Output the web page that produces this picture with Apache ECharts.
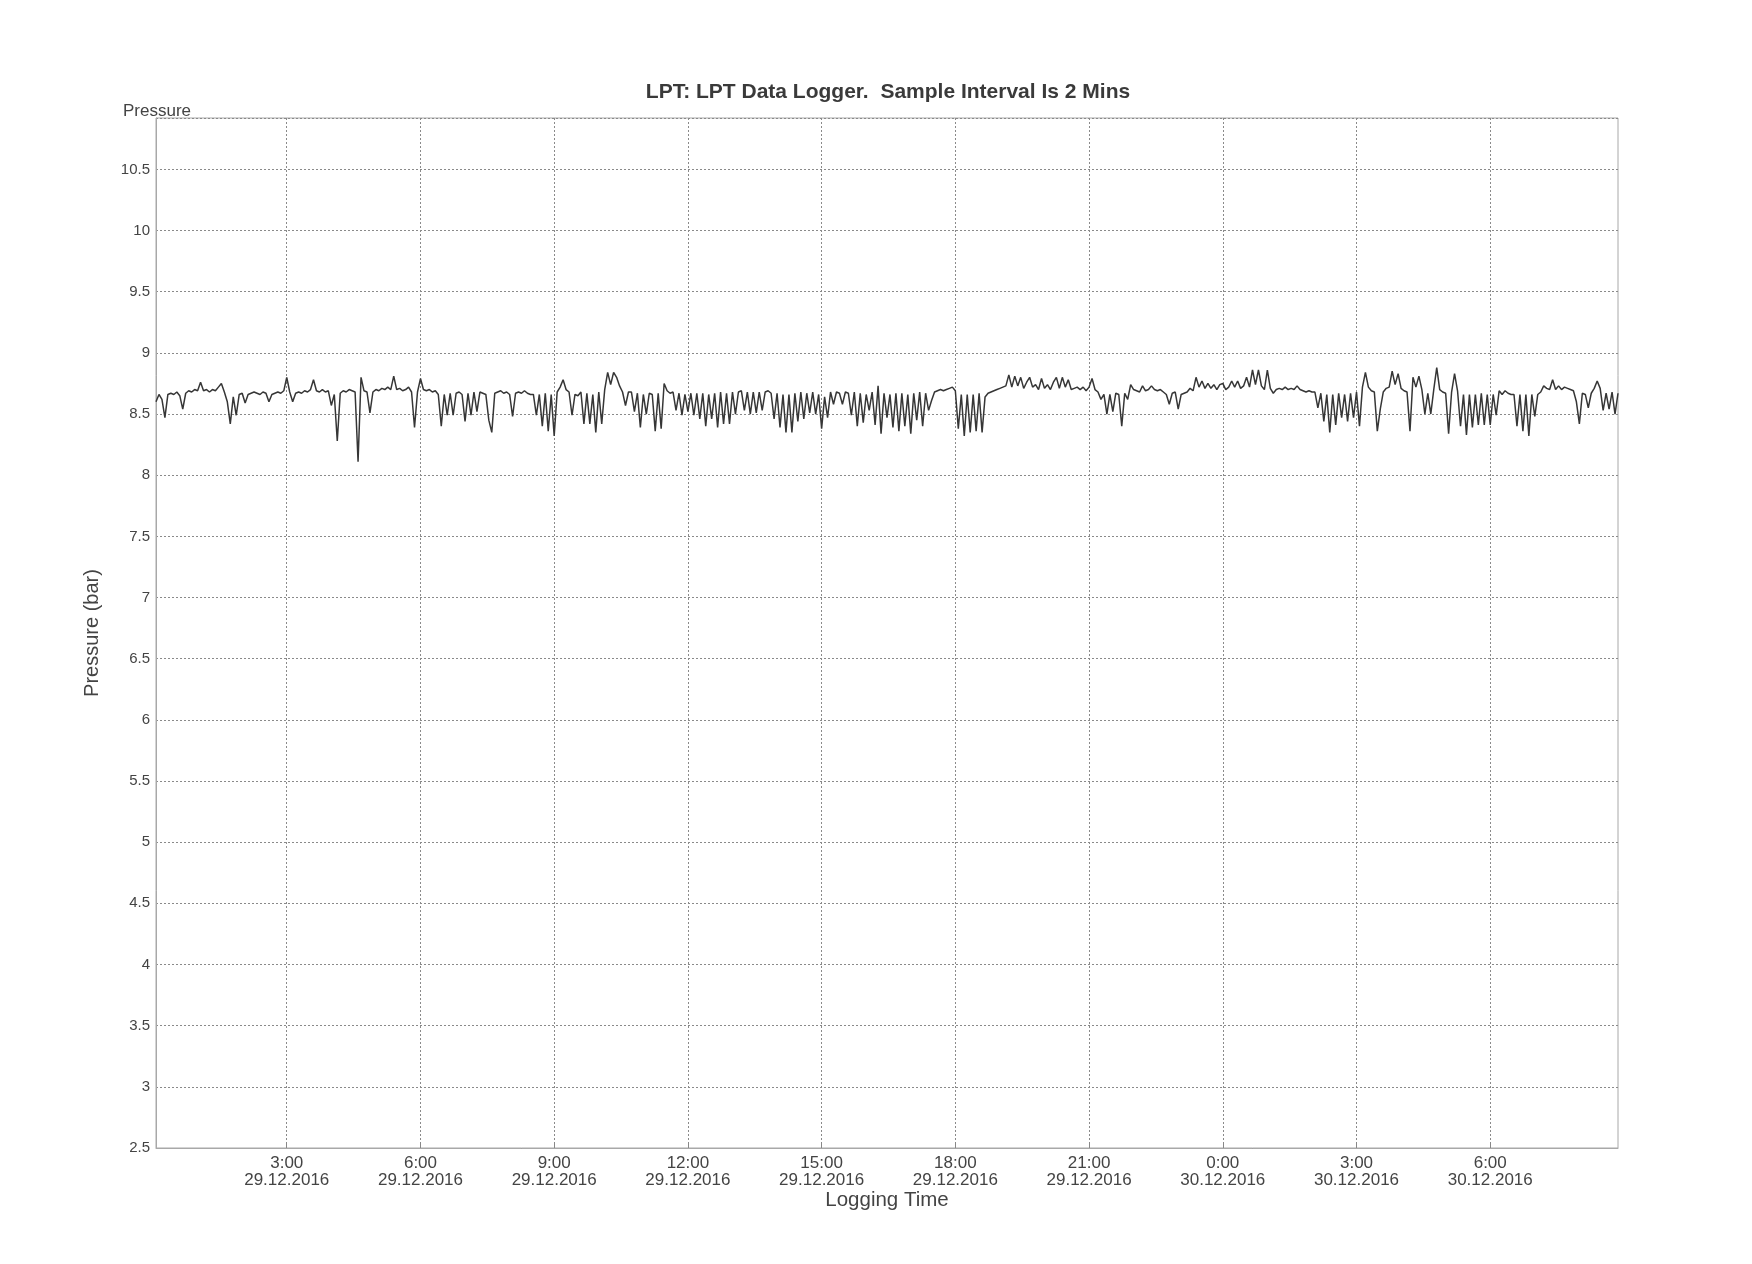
<!DOCTYPE html>
<html>
<head>
<meta charset="utf-8">
<script src="https://cdn.jsdelivr.net/npm/echarts@6/dist/echarts.min.js"></script>
<style>
html,body{margin:0;padding:0;background:#fff;}
#chart{width:1752px;height:1264px;}
</style>
</head>
<body>
<div id="chart"></div>
<script>
// Logging times are minutes after 29.12.2016 0:00; samples every 4 minutes inside each 3-hour block
const seg0Start = 4;    // 29.12 0:04
const seg0 = [8.60,8.66,8.62,8.47,8.66,8.67,8.66,8.68,8.65,8.54,8.67,8.69,8.68,8.70,
  8.69,8.76,8.69,8.70,8.68,8.70,8.69,8.72,8.75,8.68,8.60,8.42,8.64,8.49,8.66,
  8.67,8.59,8.66,8.67,8.68,8.67,8.66,8.68,8.67,8.60,8.66,8.67,8.68,8.67,8.69];
const seg1Start = 180;  // 29.12 3:00
const seg1 = [8.80,8.68,8.60,8.67,8.68,8.67,8.69,8.68,8.70,8.78,8.69,8.68,8.70,8.68,8.69,
  8.57,8.66,8.28,8.67,8.69,8.68,8.70,8.69,8.68,8.11,8.80,8.69,8.68,8.51,8.68,
  8.70,8.69,8.71,8.70,8.72,8.70,8.81,8.70,8.71,8.69,8.70,8.72,8.68,8.39,8.68];
const seg2Start = 360;  // 29.12 6:00
const seg2 = [8.79,8.70,8.69,8.70,8.68,8.69,8.66,8.40,8.66,8.49,8.67,8.49,8.67,8.68,8.66,
  8.44,8.67,8.49,8.68,8.52,8.68,8.67,8.66,8.45,8.35,8.67,8.68,8.69,8.67,8.68,
  8.66,8.48,8.67,8.68,8.67,8.69,8.67,8.66,8.66,8.49,8.66,8.40,8.67,8.36,8.66];
const seg3Start = 540;  // 29.12 9:00
const seg3 = [8.32,8.68,8.72,8.78,8.70,8.68,8.49,8.66,8.65,8.68,8.42,8.67,8.42,8.66,8.35,
  8.68,8.42,8.70,8.84,8.74,8.84,8.80,8.73,8.68,8.57,8.68,8.68,8.52,8.67,8.39,
  8.66,8.50,8.67,8.66,8.36,8.67,8.38,8.75,8.69,8.67,8.68,8.53,8.67,8.49,8.66];
const seg4Start = 720;  // 29.12 12:00
const seg4 = [8.52,8.67,8.49,8.67,8.46,8.67,8.40,8.66,8.46,8.67,8.39,8.68,8.42,8.67,8.42,
  8.68,8.50,8.68,8.69,8.53,8.68,8.50,8.68,8.51,8.68,8.53,8.68,8.69,8.67,8.46,
  8.67,8.39,8.66,8.35,8.66,8.35,8.67,8.44,8.68,8.46,8.67,8.51,8.68,8.50,8.66];
const seg5Start = 900;  // 29.12 15:00
const seg5 = [8.38,8.64,8.47,8.68,8.58,8.68,8.67,8.58,8.68,8.67,8.49,8.68,8.40,8.67,8.43,
  8.66,8.53,8.68,8.41,8.73,8.34,8.67,8.47,8.66,8.39,8.67,8.36,8.67,8.40,8.66,
  8.34,8.67,8.45,8.68,8.40,8.67,8.53,8.61,8.68,8.69,8.70,8.69,8.70,8.71,8.72];
const seg6Start = 1080; // 29.12 18:00
const seg6 = [8.69,8.38,8.66,8.32,8.66,8.35,8.66,8.36,8.67,8.35,8.64,8.67,8.68,8.69,8.70,
  8.71,8.72,8.73,8.82,8.72,8.81,8.73,8.80,8.71,8.76,8.80,8.72,8.74,8.70,8.79,
  8.71,8.74,8.70,8.76,8.80,8.71,8.80,8.72,8.78,8.70,8.71,8.72,8.70,8.72,8.69];
const seg7Start = 1260; // 29.12 21:00
const seg7 = [8.72,8.79,8.70,8.68,8.62,8.66,8.50,8.66,8.52,8.67,8.66,8.40,8.67,8.62,8.74,
  8.70,8.69,8.68,8.73,8.69,8.70,8.73,8.70,8.69,8.70,8.68,8.66,8.58,8.67,8.68,
  8.54,8.66,8.67,8.68,8.71,8.69,8.80,8.72,8.77,8.71,8.75,8.71,8.74,8.70,8.74];
const seg8Start = 1440; // 30.12 0:00
const seg8 = [8.75,8.70,8.72,8.77,8.72,8.77,8.71,8.73,8.80,8.72,8.86,8.74,8.86,8.73,8.70,
  8.86,8.71,8.67,8.70,8.71,8.70,8.72,8.70,8.71,8.70,8.73,8.70,8.69,8.68,8.69,
  8.68,8.68,8.55,8.67,8.44,8.66,8.35,8.66,8.41,8.67,8.47,8.66,8.44,8.67,8.47];
const seg9Start = 1620; // 30.12 3:00
const seg9 = [8.68,8.40,8.72,8.84,8.72,8.69,8.68,8.36,8.54,8.68,8.71,8.72,8.85,8.74,8.83,
  8.71,8.69,8.68,8.36,8.80,8.72,8.81,8.70,8.50,8.67,8.50,8.70,8.88,8.70,8.68,
  8.67,8.34,8.68,8.83,8.69,8.40,8.66,8.33,8.66,8.39,8.66,8.41,8.67,8.41,8.66];
const seg10Start = 1800; // 30.12 6:00
const seg10 = [8.41,8.66,8.49,8.69,8.66,8.69,8.67,8.66,8.66,8.40,8.66,8.36,8.66,8.32,8.66,
  8.48,8.66,8.68,8.73,8.71,8.70,8.78,8.70,8.73,8.70,8.72,8.71,8.70,8.69,8.60,
  8.42,8.67,8.66,8.55,8.67,8.71,8.77,8.71,8.53,8.67,8.54,8.68,8.50,8.67];
const sampleStep = 4; // minutes between plotted samples

const tickMinutes = [180,360,540,720,900,1080,1260,1440,1620,1800];
const tickLabels = ['3:00\n29.12.2016','6:00\n29.12.2016','9:00\n29.12.2016','12:00\n29.12.2016',
  '15:00\n29.12.2016','18:00\n29.12.2016','21:00\n29.12.2016','0:00\n30.12.2016',
  '3:00\n30.12.2016','6:00\n30.12.2016'];

const segments = [[seg0Start,seg0],[seg1Start,seg1],[seg2Start,seg2],[seg3Start,seg3],
  [seg4Start,seg4],[seg5Start,seg5],[seg6Start,seg6],[seg7Start,seg7],[seg8Start,seg8],
  [seg9Start,seg9],[seg10Start,seg10]];
const data = [];
segments.forEach(function(s){
  s[1].forEach(function(v,k){ data.push([s[0] + k*sampleStep, v]); });
});
const xMin = data[0][0], xMax = data[data.length-1][0];

const FONT = '"Liberation Sans", Arial, sans-serif';
const chart = echarts.init(document.getElementById('chart'), null, {renderer:'canvas'});
chart.setOption({
  backgroundColor:'#ffffff',
  animation:false,
  title:[
    {text:'Pressure', left:123, top:103, padding:0,
     textStyle:{fontFamily:FONT, fontSize:17, fontWeight:'normal', color:'#444'}}
  ],
  graphic:[{
    type:'text', x:888, y:92, silent:true,
    style:{text:'LPT: LPT Data Logger.  Sample Interval Is 2 Mins', x:0, y:0,
      align:'center', verticalAlign:'middle',
      font:'bold 21px "Liberation Sans", Arial, sans-serif', fill:'#3a3a3a'}
  }],
  grid:{left:156, right:134, top:118, bottom:116, show:true, borderColor:'#a8a8a8', borderWidth:1, backgroundColor:'transparent'},
  xAxis:{
    type:'value', min:xMin, max:xMax,
    name:'Logging Time', nameLocation:'middle', nameGap:42, nameMoveOverlap:false,
    nameTextStyle:{fontFamily:FONT, fontSize:20.5, color:'#444'},
    axisLine:{show:true, lineStyle:{color:'#a8a8a8', width:1}},
    axisTick:{show:true, inside:true, length:6, customValues:tickMinutes, lineStyle:{color:'#888'}},
    axisLabel:{customValues:tickMinutes, fontFamily:FONT, fontSize:17, lineHeight:17, color:'#444', margin:7,
      formatter:function(v){ const i = tickMinutes.indexOf(v); return i>=0 ? tickLabels[i] : ''; }},
    splitLine:{show:true, lineStyle:{color:'#8a8a8a', type:[2,2], width:1}}
  },
  yAxis:{
    type:'value', min:2.5, max:10.92, interval:0.5,
    name:'Pressure (bar)', nameLocation:'middle', nameGap:54, nameMoveOverlap:false,
    nameTextStyle:{fontFamily:FONT, fontSize:20, color:'#444'},
    axisLine:{show:true, lineStyle:{color:'#a8a8a8', width:1}},
    axisTick:{show:false},
    axisLabel:{fontFamily:FONT, fontSize:15, color:'#444', margin:6,
      formatter:function(v){ return Math.abs(v*2 - Math.round(v*2))>1e-6 ? '' : String(v); }},
    splitLine:{show:true, lineStyle:{color:'#8a8a8a', type:[2,2], width:1}}
  },
  series:[{
    type:'line', data:data, showSymbol:false, symbol:'none',
    lineStyle:{color:'#363636', width:1.5}, z:3
  }]
});
</script>
</body>
</html>
